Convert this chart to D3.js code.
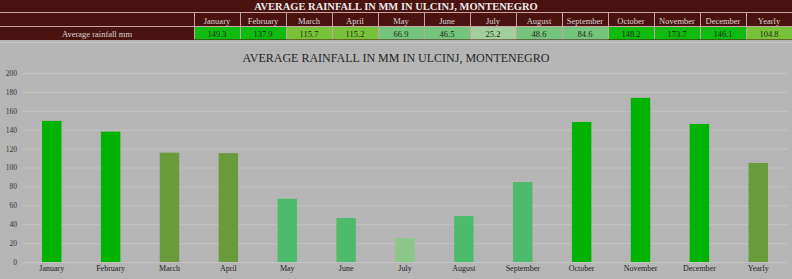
<!DOCTYPE html>
<html>
<head>
<meta charset="utf-8">
<script src="https://cdn.jsdelivr.net/npm/d3@7"></script>
<style>
  html, body { margin: 0; padding: 0; background: #b5b5b5; }
  svg { display: block; font-family: "Liberation Serif", "DejaVu Serif", serif; }
</style>
</head>
<body>
<div id="chart"></div>
<script>
// Average rainfall, Ulcinj (mm)
const MONTHS = ["January","February","March","April","May","June","July",
                "August","September","October","November","December","Yearly"];
const RAIN   = [149.3, 137.9, 115.7, 115.2, 66.9, 46.5, 25.2, 48.6, 84.6, 148.2, 173.7, 146.1, 104.8];
const Y_TICKS = [0, 20, 40, 60, 80, 100, 120, 140, 160, 180, 200];
const TITLE = "AVERAGE RAINFALL IN MM IN ULCINJ, MONTENEGRO";
const ROW_LABEL = "Average rainfall mm";

// colour groups as seen in the picture
const barColor = (v, i) => {
  if (MONTHS[i] === "July") return "#8cc78a";
  if (v >= 130) return "#00b300";
  if (v >= 100) return "#6a9b3a";
  return "#4cbb6b";
};
const cellColor = (v, i) => {
  if (MONTHS[i] === "July") return "#a3cf9c";
  if (v >= 130) return "#10bb10";
  if (v >= 100) return "#78c23a";
  return "#74c47c";
};

const totalW = 792, totalH = 279;
const svg = d3.select("#chart").append("svg")
  .attr("width", totalW).attr("height", totalH);

/* ── Table on top ── */
const tableH = 40;
svg.append("rect").attr("width", totalW).attr("height", tableH).attr("fill", "#4a1310");
svg.append("text")
  .attr("x", totalW / 2).attr("y", 10)
  .attr("text-anchor", "middle").attr("font-size", 10.5).attr("font-weight", "bold")
  .attr("fill", "#eeeaea")
  .text(TITLE);

const col = d3.scaleBand().domain(MONTHS).range([194, totalW]);
const cells = svg.append("g");
// row lines
[13, 27].forEach(yy => cells.append("line")
  .attr("x1", 0).attr("x2", totalW).attr("y1", yy - 0.5).attr("y2", yy - 0.5)
  .attr("stroke", "#c9a3a3").attr("stroke-width", 1));

MONTHS.forEach((m, i) => {
  const x0 = col(m);
  cells.append("rect")
    .attr("x", x0).attr("y", 27).attr("width", col.bandwidth()).attr("height", 12.5)
    .attr("fill", cellColor(RAIN[i], i));
  cells.append("line")
    .attr("x1", x0 + 0.5).attr("x2", x0 + 0.5).attr("y1", 13).attr("y2", 39)
    .attr("stroke", "#c9a3a3").attr("stroke-width", 1);
  cells.append("text")
    .attr("x", x0 + col.bandwidth() / 2).attr("y", 23.5)
    .attr("text-anchor", "middle").attr("font-size", 8.5).attr("fill", "#dcd6d6")
    .text(m);
  cells.append("text")
    .attr("x", x0 + col.bandwidth() / 2).attr("y", 37)
    .attr("text-anchor", "middle").attr("font-size", 8.5).attr("fill", "#1e2a10")
    .text(RAIN[i].toFixed(1));
});
cells.append("text")
  .attr("x", 97).attr("y", 37)
  .attr("text-anchor", "middle").attr("font-size", 8.5).attr("fill", "#dcd6d6")
  .text(ROW_LABEL);

// thin separator under table
svg.append("line").attr("x1", 0).attr("x2", totalW).attr("y1", 42.5).attr("y2", 42.5)
  .attr("stroke", "#c8c8c8");

/* ── Chart ── */
svg.append("text")
  .attr("x", 396).attr("y", 62)
  .attr("text-anchor", "middle").attr("font-size", 12).attr("fill", "#262626")
  .text(TITLE);

const x = d3.scaleBand().domain(MONTHS).range([22, 788]).paddingInner(0.67).paddingOuter(0.34);
const y = d3.scaleLinear().domain([0, 200]).range([262, 73]);

// grid
svg.append("g")
  .call(d3.axisLeft(y).tickValues(Y_TICKS).tickSize(-(788 - 22)).tickFormat(""))
  .attr("transform", "translate(22,0)")
  .call(ax => {
    ax.select(".domain").remove();
    ax.selectAll("line").attr("stroke", "#c3c3c3").attr("stroke-width", 1);
  });

// y labels
svg.append("g")
  .attr("transform", "translate(17,0)")
  .call(d3.axisLeft(y).tickValues(Y_TICKS).tickSize(0).tickPadding(0))
  .call(ax => ax.select(".domain").remove())
  .selectAll("text")
  .attr("font-family", "Liberation Serif, serif")
  .attr("font-size", 7.5).attr("fill", "#333");

// bars
svg.append("g").selectAll("rect")
  .data(RAIN)
  .join("rect")
  .attr("x", (d, i) => x(MONTHS[i]))
  .attr("y", d => y(d))
  .attr("width", x.bandwidth())
  .attr("height", d => y(0) - y(d))
  .attr("fill", (d, i) => barColor(d, i));

// x labels
svg.append("g")
  .attr("transform", `translate(0,${y(0)})`)
  .call(d3.axisBottom(x).tickSize(0).tickPadding(3))
  .call(ax => ax.select(".domain").remove())
  .selectAll("text")
  .attr("font-family", "Liberation Serif, serif")
  .attr("font-size", 8).attr("fill", "#222");
</script>
</body>
</html>
